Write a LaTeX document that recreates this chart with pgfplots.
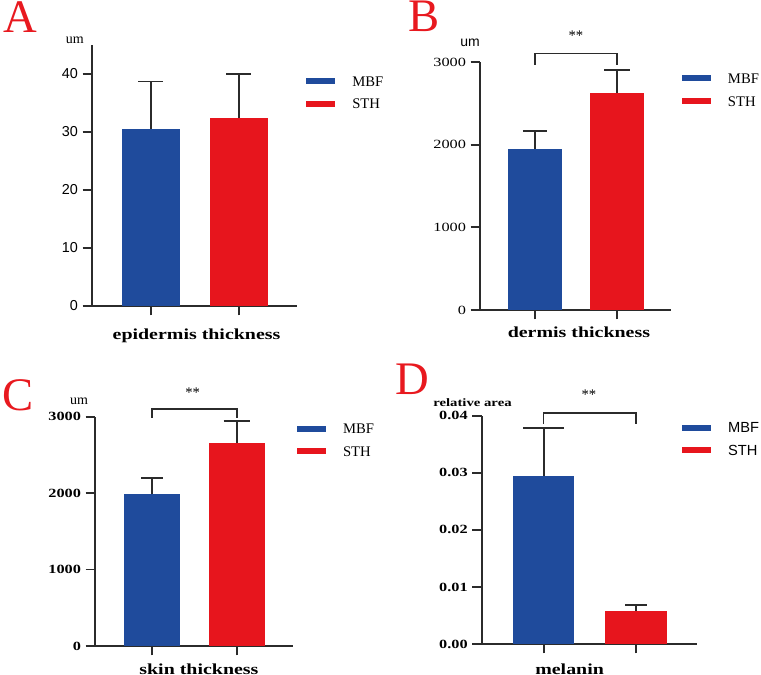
\documentclass[border=0pt]{standalone}
\usepackage{fontspec}
\usepackage{pgfplots}
\pgfplotsset{compat=1.18}
\setmainfont{Liberation Serif}
\setsansfont{Liberation Sans}
\newfontfamily\wideserif[FakeStretch=1.3]{Liberation Serif}

\definecolor{mbf}{HTML}{1F4B9C}
\definecolor{sth}{HTML}{E7151D}
\definecolor{axc}{HTML}{2B2B2B}
\definecolor{letter}{HTML}{E8191F}

\newcommand{\tickfont}{\wideserif\fontsize{9.4}{10}\selectfont}
\newcommand{\xlabfont}{\wideserif\bfseries\fontsize{11.5}{13}\selectfont}

\tikzset{bracket/.style={line width=1.2pt, color=axc}}

\pgfplotsset{
  panel/.style={
    scale only axis, clip=false,
    axis lines=left, axis line style={-, line width=1.4pt, color=axc},
    tick style={line width=1.4pt, color=axc},
    major tick length=7pt, tick align=outside,
    xmin=-0.67, xmax=1.66, xtick={0,1}, xticklabels={{},{}},
    ymin=0, scaled y ticks=false,
    /pgf/number format/assume math mode=true,
    legend cell align=left,
    legend image code/.code={\fill[##1, draw=none] (0pt,-2.25pt) rectangle (21.75pt,2.25pt); \path (32.5pt,0pt);},
    legend style={draw=none, fill=none, inner sep=0pt, row sep=5pt,
      nodes={inner sep=2pt, text height=8pt, text depth=0pt},
      font=\fontsize{11}{12}\selectfont},
    error bars/error bar style={line width=1.3pt, color=axc},
    every axis x label/.style={anchor=center, font=\xlabfont},
    every axis y label/.style={anchor=center},
  },
  bars/.style={ybar, bar width=0.665, bar shift=0pt, fill=#1, draw=none},
  cap/.style={error bars/.cd, y dir=plus, y explicit,
    error mark options={rotate=90, mark size=#1, line width=1.3pt, draw=axc}},
}

\begin{document}
\begin{tikzpicture}
\path[use as bounding box] (0pt,0pt) rectangle (570.75pt,506.25pt);

% A: epidermis
\begin{axis}[panel, at={(69pt,276.75pt)}, anchor=south west,
  width=153.75pt, height=195.75pt, ymax=45,
  ytick={0,10,20,30,40}, yticklabels={0,10,20,30,40},
  yticklabel style={font=\sffamily\fontsize{10.8}{12}\selectfont},
  ylabel={um}, ylabel style={at={(axis description cs:-0.084,1.019)}, font=\fontsize{10.5}{11}\selectfont},
  xlabel={epidermis thickness}, xlabel style={at={(axis description cs:0.51,-0.115)}},
  legend style={at={(axis description cs:1.044,0.894)}, anchor=north west}]
\addplot[bars=mbf, cap=9.4pt] coordinates {(0,30.6) +- (0,8.1)};
\addlegendentry{MBF}
\addplot[bars=sth, cap=9.4pt] coordinates {(1,32.4) +- (0,7.6)};
\addlegendentry{STH}
\end{axis}

% B: dermis
\begin{axis}[panel, at={(360pt,273.75pt)}, anchor=south west,
  width=143.25pt, height=186pt, ymax=3000,
  ytick={0,1000,2000,3000}, yticklabels={0,1000,2000,3000},
  yticklabel style={font=\tickfont},
  ylabel={um}, ylabel style={at={(axis description cs:-0.052,1.077)}, font=\sffamily\fontsize{10.5}{11}\selectfont},
  xlabel={dermis thickness}, xlabel style={at={(axis description cs:0.518,-0.089)}},
  legend style={at={(axis description cs:1.056,0.967)}, anchor=north west}]
\addplot[bars=mbf, cap=9pt] coordinates {(0,1951) +- (0,218)};
\addlegendentry{MBF}
\addplot[bars=sth, cap=9.5pt] coordinates {(1,2629) +- (0,274)};
\addlegendentry{STH}
\draw[bracket] (axis cs:0,2964) -- (axis cs:0,3105) -- (axis cs:1,3105) -- (axis cs:1,2964);
\node[font=\fontsize{11}{12}\selectfont] at (axis cs:0.5,3323) {**};
\end{axis}

% C: skin
\begin{axis}[panel, at={(71.25pt,21.75pt)}, anchor=south west,
  width=148.5pt, height=172pt, ymax=3000,
  ytick={0,1000,2000,3000}, yticklabels={0,1000,2000,3000},
  yticklabel style={font=\tickfont\bfseries},
  ylabel={um}, ylabel style={at={(axis description cs:-0.081,1.068)}, font=\fontsize{10.5}{11}\selectfont},
  xlabel={skin thickness}, xlabel style={at={(axis description cs:0.525,-0.1)}},
  legend style={at={(axis description cs:1.019,0.984)}, anchor=north west}]
\addplot[bars=mbf, cap=8pt] coordinates {(0,1984) +- (0,218)};
\addlegendentry{MBF}
\addplot[bars=sth, cap=10pt] coordinates {(1,2660) +- (0,279)};
\addlegendentry{STH}
\draw[bracket] (axis cs:0,2983) -- (axis cs:0,3097) -- (axis cs:1,3097) -- (axis cs:1,2983);
\node[font=\fontsize{11}{12}\selectfont] at (axis cs:0.48,3310) {**};
\end{axis}

% D: melanin
\begin{axis}[panel, at={(361.3pt,23.25pt)}, anchor=south west,
  width=161.5pt, height=171.2pt, ymax=0.04,
  ytick={0,0.01,0.02,0.03,0.04}, yticklabels={0.00,0.01,0.02,0.03,0.04},
  yticklabel style={font=\tickfont\bfseries},
  ylabel={relative area}, ylabel style={at={(axis description cs:-0.043,1.058)}, font=\wideserif\bfseries\fontsize{8.5}{10}\selectfont},
  xlabel={melanin}, xlabel style={at={(axis description cs:0.408,-0.11)}},
  legend style={at={(axis description cs:0.929,0.984)}, anchor=north west, font=\sffamily\fontsize{11}{12}\selectfont}]
\addplot[bars=mbf, cap=15.4pt] coordinates {(0,0.0295) +- (0,0.0084)};
\addlegendentry{MBF}
\addplot[bars=sth, cap=8.3pt] coordinates {(1,0.0058) +- (0,0.0010)};
\addlegendentry{STH}
\draw[bracket] (axis cs:0,0.03854) -- (axis cs:0,0.04052) -- (axis cs:1,0.04052) -- (axis cs:1,0.03854);
\node[font=\fontsize{11}{12}\selectfont] at (axis cs:0.49,0.04362) {**};
\end{axis}

% panel letters
\begin{scope}[every node/.style={anchor=base west, inner sep=0pt, text=letter, font=\fontsize{35}{40}\selectfont}]
\node at (2.25pt,481.5pt) {A};
\node at (306pt,482.25pt) {B};
\node at (1.5pt,198pt) {C};
\node at (296.25pt,210pt) {D};
\end{scope}
\end{tikzpicture}
\end{document}
